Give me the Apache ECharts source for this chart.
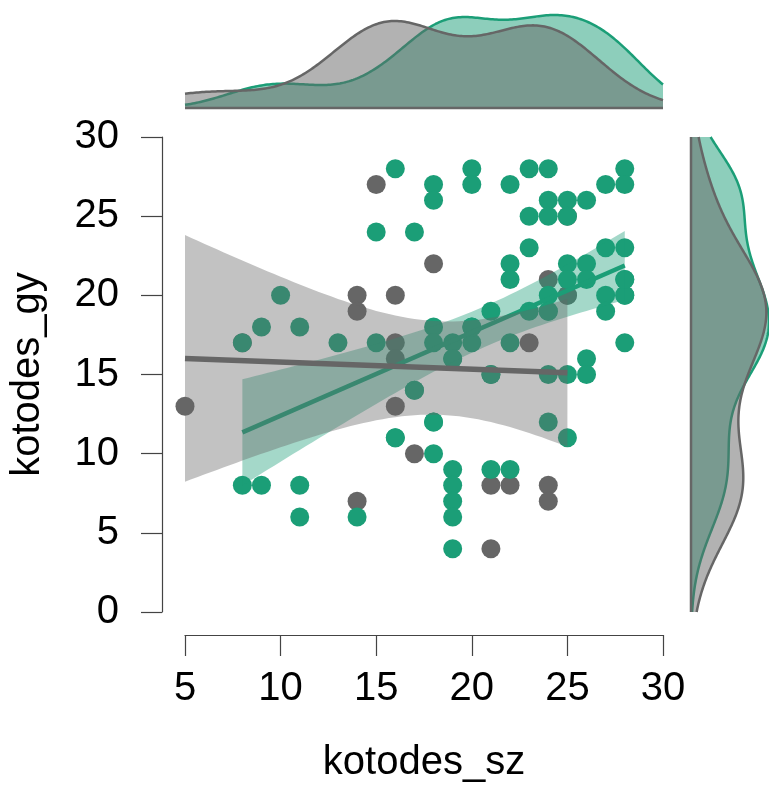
<!DOCTYPE html>
<html><head><meta charset="utf-8">
<script src="https://cdn.jsdelivr.net/npm/echarts/dist/echarts.min.js"></script>
<style>html,body{margin:0;padding:0;background:#fff}#c{width:769px;height:787px}</style>
</head><body><div id="c"></div>
<script>
// ---- data (the last entries of each list are points hidden under identical points) ----
const grayX = [15,14,14,16,16,16,5,16,17,14,18,24,25,23,21,22,24,24,21, 8,25,25];
const grayY = [27,20,19,20,17,16,13,13,10,7,22,21,20,17,8,8,8,7,4, 17,20,25];
const greenX = [16,15,17,10,9,11,8,13,15,17,16,8,9,11,11,14,
  20,20,18,18,22,23,24,28,28,27, 24,25,26,23,24,25,23,27,28,22,
  22,25,25,26,26,24,28,28,27,27, 23,24,21,18,18,20,20,19,19,22,
  28,26,26,21,24,25,18,24,25,18, 19,19,19,19,19,21,22,
  16,17,18,19,20,21,24,28,28];
const greenY = [28,24,24,20,18,18,17,17,17,14,11,8,8,8,6,6,
  28,27,27,26,27,28,28,28,27,27, 26,26,26,25,25,25,23,23,23,22,
  21,22,21,22,21,20,21,20,20,19, 19,19,19,18,17,18,17,17,16,17,
  17,16,15,15,15,15,12,12,11,10, 9,8,7,6,4,9,9,
  11,14,12,16,18,15,19,20,21];
const xTicks = [5,10,15,20,25,30];
const yTicks = [0,5,10,15,20,25,30];
const xName = 'kotodes_sz', yName = 'kotodes_gy';

// ---- statistics: linear fit with 95% CI, Gaussian KDE (bw.nrd0) ----
const SQ = Math.sqrt(2*Math.PI);
function tq(df){const z=1.959963985,z3=z*z*z,z5=z3*z*z,z7=z5*z*z;return z+(z3+z)/(4*df)+(5*z5+16*z3+3*z)/(96*df*df)+(3*z7+19*z5+17*z3-15*z)/(384*df*df*df);}
function q7(s,p){const h=(s.length-1)*p,lo=Math.floor(h);return s[lo]+(h-lo)*(s[Math.min(lo+1,s.length-1)]-s[lo]);}
function bwNrd0(a){const n=a.length,m=a.reduce((s,v)=>s+v,0)/n;const sd=Math.sqrt(a.reduce((s,v)=>s+(v-m)*(v-m),0)/(n-1));
  const s=[...a].sort((p,q)=>p-q);const iqr=q7(s,.75)-q7(s,.25);let lo=Math.min(sd,iqr/1.34);if(!(lo>0))lo=sd||1;return 0.9*lo*Math.pow(n,-0.2);}
function kde(a,t,bw){let s=0;for(const v of a){const z=(t-v)/bw;s+=Math.exp(-0.5*z*z);}return s/(a.length*bw*SQ);}
function fit(xs,ys){const n=xs.length;const mx=xs.reduce((s,v)=>s+v,0)/n,my=ys.reduce((s,v)=>s+v,0)/n;
  let sxx=0,sxy=0;for(let i=0;i<n;i++){sxx+=(xs[i]-mx)**2;sxy+=(xs[i]-mx)*(ys[i]-my);}
  const b=sxy/sxx,a=my-b*mx;let sse=0;for(let i=0;i<n;i++)sse+=(ys[i]-a-b*xs[i])**2;
  const s=Math.sqrt(sse/(n-2)),t=tq(n-2);
  return {pred:x=>a+b*x,half:x=>t*s*Math.sqrt(1/n+(x-mx)**2/sxx),x0:Math.min(...xs),x1:Math.max(...xs)};}

const gFit=fit(grayX,grayY), eFit=fit(greenX,greenY);
function bandPts(F){const up=[],lo=[];const N=60;for(let i=0;i<=N;i++){const x=F.x0+(F.x1-F.x0)*i/N;up.push([x,F.pred(x)+F.half(x)]);lo.push([x,F.pred(x)-F.half(x)]);}return up.concat(lo.reverse());}
function topCurve(a){const bw=bwNrd0(a);const p=[];for(let x=5;x<=30.0001;x+=0.1)p.push([x,kde(a,x,bw)]);return p;}
function rightCurve(a){const bw=bwNrd0(a);const p=[];for(let y=0;y<=30.0001;y+=0.1)p.push([kde(a,y,bw),y]);return p;}
const topGreen=topCurve(greenX),topGray=topCurve(grayX),rGreen=rightCurve(greenY),rGray=rightCurve(grayY);
const topMax=Math.max(...topGreen.map(p=>p[1]),...topGray.map(p=>p[1]));
const rMax=Math.max(...rGray.map(p=>p[0]),...rGreen.map(p=>p[0]));

function band(pts,fill,z){return {type:'custom',xAxisIndex:0,yAxisIndex:0,z:z,silent:true,clip:false,data:[[pts[0][0],pts[0][1]]],
  renderItem:(params,api)=>({type:'polygon',shape:{points:pts.map(p=>api.coord(p))},style:{fill:fill}})};}
// density: filled area closed to the baseline, stroke only on the curve
function dens(curve,b0,b1,fill,stroke,z,ai){return {type:'custom',xAxisIndex:ai,yAxisIndex:ai,z:z,silent:true,clip:false,data:[[curve[0][0],curve[0][1]]],
  renderItem:(params,api)=>{const c=curve.map(p=>api.coord(p));const poly=[api.coord(b0)].concat(c,[api.coord(b1)]);
    return {type:'group',children:[
      {type:'polygon',shape:{points:poly},style:{fill:fill}},
      {type:'polyline',shape:{points:c},style:{stroke:stroke,lineWidth:2.5,fill:null,lineJoin:'round'}}]};}};}
function baseLine(p0,p1,ai){return {type:'custom',xAxisIndex:ai,yAxisIndex:ai,z:4,silent:true,clip:false,data:[p0],
  renderItem:(params,api)=>{const a=api.coord(p0),b=api.coord(p1);return {type:'line',shape:{x1:a[0],y1:a[1],x2:b[0],y2:b[1]},style:{stroke:'#666666',lineWidth:2.5}};}};}

const axCol='#444', FF='Liberation Sans';
const chart=echarts.init(document.getElementById('c'),null,{renderer:'canvas'});
chart.setOption({
  animation:false,backgroundColor:'#fff',
  grid:[{left:185,top:137,width:478,height:475,outerBoundsMode:'none'},{left:185,top:15,width:478,height:93,outerBoundsMode:'none'},{left:691,top:137,width:78,height:475,outerBoundsMode:'none'}],
  xAxis:[
    {gridIndex:0,type:'value',min:xTicks[0],max:xTicks[xTicks.length-1],interval:xTicks[1]-xTicks[0],offset:23,
     axisLine:{show:true,onZero:false,lineStyle:{color:axCol,width:1.2}},axisTick:{show:true,length:21,lineStyle:{color:axCol,width:1.2}},
     axisLabel:{fontSize:40,color:'#000',fontFamily:FF,margin:34,showMinLabel:true,showMaxLabel:true,hideOverlap:false},splitLine:{show:false},
     name:xName,nameLocation:'middle',nameGap:108,nameTextStyle:{fontSize:40,color:'#000',fontFamily:FF}},
    {gridIndex:1,type:'value',min:xTicks[0],max:xTicks[xTicks.length-1],show:false},
    {gridIndex:2,type:'value',min:0,max:rMax,show:false}],
  yAxis:[
    {gridIndex:0,type:'value',min:yTicks[0],max:yTicks[yTicks.length-1],interval:yTicks[1]-yTicks[0],offset:23,
     axisLine:{show:true,onZero:false,lineStyle:{color:axCol,width:1.2}},axisTick:{show:true,length:21,lineStyle:{color:axCol,width:1.2}},
     axisLabel:{fontSize:40,color:'#000',fontFamily:FF,margin:43,showMinLabel:true,showMaxLabel:true,hideOverlap:false},splitLine:{show:false},
     name:yName,nameLocation:'middle',nameGap:114,nameTextStyle:{fontSize:40,color:'#000',fontFamily:FF}},
    {gridIndex:1,type:'value',min:0,max:topMax,show:false},
    {gridIndex:2,type:'value',min:yTicks[0],max:yTicks[yTicks.length-1],show:false}],
  series:[
    {type:'scatter',xAxisIndex:0,yAxisIndex:0,z:2,symbolSize:19,itemStyle:{color:'#666666',opacity:1},data:grayX.map((x,i)=>[x,grayY[i]])},
    {type:'scatter',xAxisIndex:0,yAxisIndex:0,z:2,symbolSize:19,itemStyle:{color:'#1b9e77',opacity:1},data:greenX.map((x,i)=>[x,greenY[i]])},
    band(bandPts(eFit),'rgba(27,158,119,0.4)',3),
    {type:'line',xAxisIndex:0,yAxisIndex:0,z:4,symbol:'none',silent:true,lineStyle:{color:'#1b9e77',width:4.5},data:[[eFit.x0,eFit.pred(eFit.x0)],[eFit.x1,eFit.pred(eFit.x1)]]},
    band(bandPts(gFit),'rgba(102,102,102,0.4)',5),
    {type:'line',xAxisIndex:0,yAxisIndex:0,z:6,symbol:'none',silent:true,lineStyle:{color:'#666666',width:5.5},data:[[gFit.x0,gFit.pred(gFit.x0)],[gFit.x1,gFit.pred(gFit.x1)]]},
    dens(topGreen,[5,0],[30,0],'rgba(27,158,119,0.5)','#1b9e77',2,1),
    dens(topGray,[5,0],[30,0],'rgba(102,102,102,0.5)','#666666',3,1),
    baseLine([5,0],[30,0],1),
    dens(rGreen,[0,0],[0,30],'rgba(27,158,119,0.5)','#1b9e77',2,2),
    dens(rGray,[0,0],[0,30],'rgba(102,102,102,0.5)','#666666',3,2),
    baseLine([0,0],[0,30],2)
  ]
});
</script></body></html>
